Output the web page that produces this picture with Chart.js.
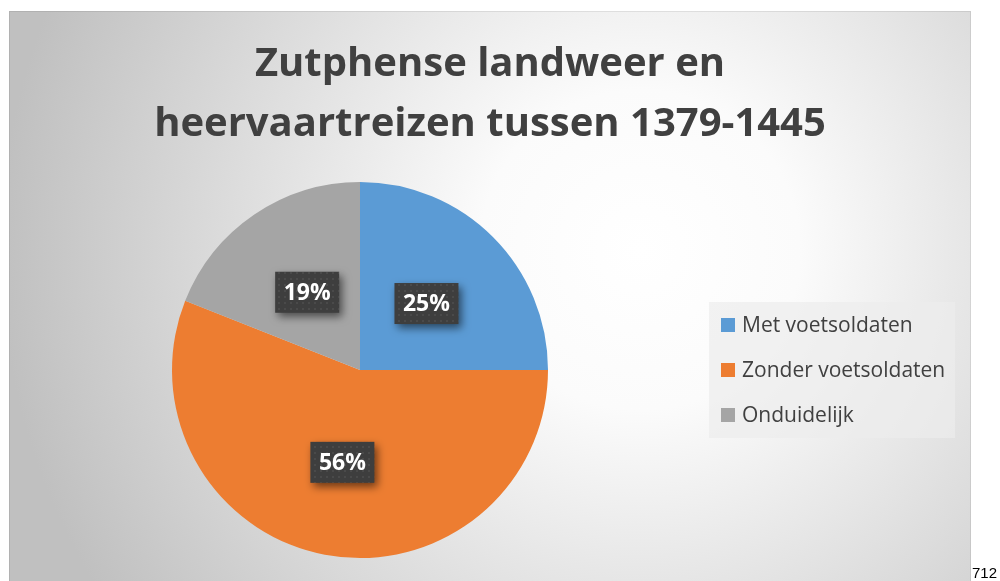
<!DOCTYPE html>
<html>
<head>
<meta charset="utf-8">
<script src="https://cdn.jsdelivr.net/npm/chart.js@4"></script>
<style>
  body { margin: 0; background: #fff; }
  canvas { display: block; }
</style>
</head>
<body>
<canvas id="pie" width="1000" height="581"></canvas>
<script>
const titleLines = ['Zutphense landweer en', 'heervaartreizen tussen 1379-1445'];
const categories = ['Met voetsoldaten', 'Zonder voetsoldaten', 'Onduidelijk'];
const shares = [25, 56, 19];
const colors = ['#5B9BD5', '#ED7D31', '#A5A5A5'];
const pageNumber = '712';

// dotted dark fill for the label boxes
function dotPattern(ctx) {
    const c = document.createElement('canvas');
    c.width = 6; c.height = 6;
    const p = c.getContext('2d');
    p.fillStyle = '#3e3e3e';
    p.fillRect(0, 0, 6, 6);
    p.fillStyle = '#4a4a4a';
    p.fillRect(2, 2, 2, 2);
    return ctx.createPattern(c, 'repeat');
}

const backdrop = {
    id: 'backdrop',
    beforeDraw(chart) {
        const ctx = chart.ctx;
        ctx.save();
        ctx.fillStyle = '#fff';
        ctx.fillRect(0, 0, chart.width, chart.height);
        const g = ctx.createRadialGradient(640, 250, 0, 640, 250, 640);
        g.addColorStop(0, '#ffffff');
        g.addColorStop(0.25, '#fbfbfb');
        g.addColorStop(1, '#c0c0c0');
        ctx.fillStyle = g;
        ctx.fillRect(9, 11, 962, 575);
        ctx.strokeStyle = 'rgba(0,0,0,0.08)';
        ctx.strokeRect(9.5, 11.5, 961, 575);
        ctx.fillStyle = '#000';
        ctx.font = '15px "Liberation Sans", sans-serif';
        ctx.textAlign = 'left';
        ctx.textBaseline = 'alphabetic';
        ctx.fillText(pageNumber, 972, 578);
        ctx.restore();
    },
    afterDraw(chart) {
        const ctx = chart.ctx;
        ctx.save();
        // title
        ctx.fillStyle = '#404040';
        ctx.font = 'bold 40px "Open Sans", sans-serif';
        ctx.textAlign = 'center';
        ctx.textBaseline = 'alphabetic';
        ctx.fillText(titleLines[0], 490, 76);
        ctx.fillText(titleLines[1], 490, 136);

        // legend
        ctx.fillStyle = 'rgba(236,236,236,0.7)';
        ctx.fillRect(709, 302, 246, 136);
        ctx.font = '21px "Open Sans", sans-serif';
        ctx.textAlign = 'left';
        ctx.textBaseline = 'middle';
        const labels = chart.data.labels;
        const bg = chart.data.datasets[0].backgroundColor;
        labels.forEach((lab, i) => {
            const cy = 325 + i * 45;
            ctx.fillStyle = bg[i];
            ctx.fillRect(721, cy - 7, 14, 14);
            ctx.fillStyle = '#404040';
            ctx.fillText(lab, 742, cy + 1);
        });

        // data labels
        const meta = chart.getDatasetMeta(0);
        const vals = chart.data.datasets[0].data;
        const total = vals.reduce((a, b) => a + b, 0);
        const pat = dotPattern(ctx);
        ctx.font = 'bold 23px "Open Sans", sans-serif';
        ctx.textAlign = 'center';
        meta.data.forEach((arc, i) => {
            const pos = arc.tooltipPosition();
            const w = 64, h = 41;
            ctx.save();
            ctx.shadowColor = 'rgba(0,0,0,0.55)';
            ctx.shadowBlur = 8;
            ctx.shadowOffsetX = 3;
            ctx.shadowOffsetY = 4;
            ctx.fillStyle = pat;
            ctx.fillRect(pos.x - w / 2, pos.y - h / 2, w, h);
            ctx.restore();
            ctx.fillStyle = '#fff';
            ctx.fillText(Math.round(vals[i] / total * 100) + '%', pos.x, pos.y + 1);
        });
        ctx.restore();
    }
};

new Chart(document.getElementById('pie').getContext('2d'), {
    type: 'pie',
    data: {
        labels: categories,
        datasets: [{ data: shares, backgroundColor: colors, borderWidth: 0 }]
    },
    options: {
        responsive: false,
        animation: false,
        layout: { padding: { left: 172, right: 452, top: 182, bottom: 23 } },
        plugins: { legend: { display: false }, title: { display: false }, tooltip: { enabled: false } }
    },
    plugins: [backdrop]
});
</script>
</body>
</html>
